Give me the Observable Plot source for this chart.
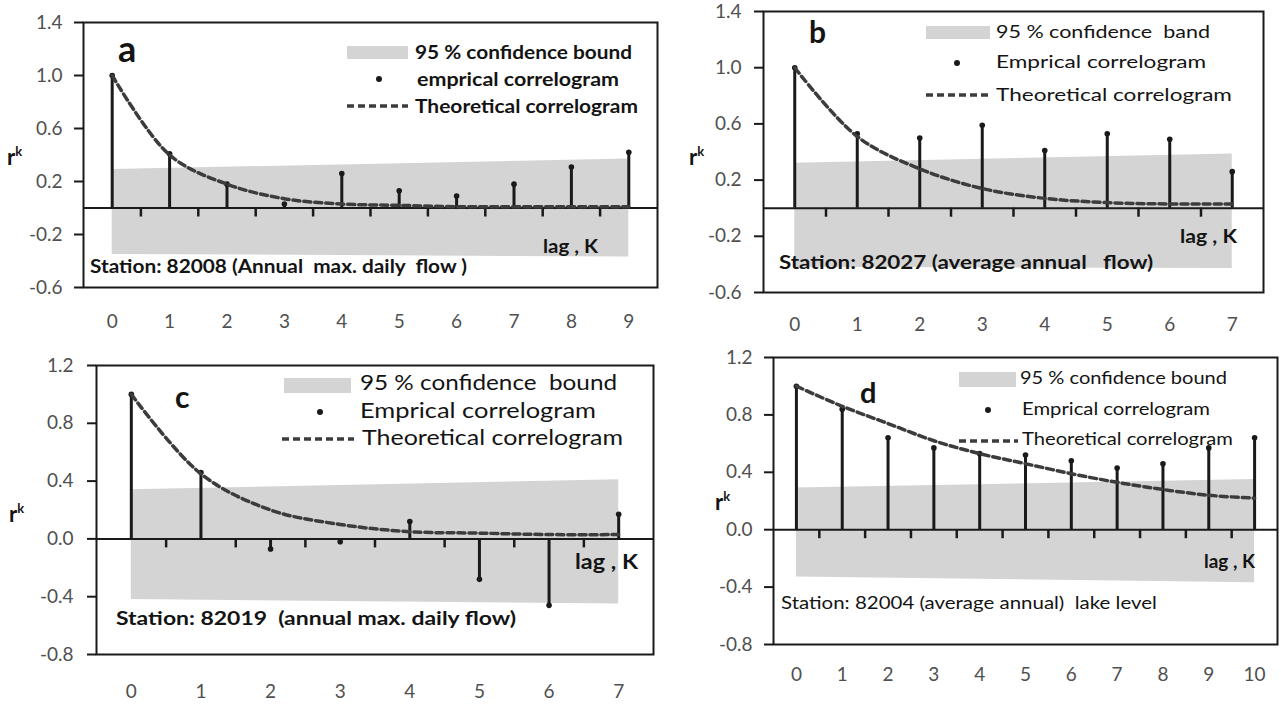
<!DOCTYPE html>
<html>
<head>
<meta charset="utf-8">
<script src="https://cdn.jsdelivr.net/npm/d3@7"></script>
<script src="https://cdn.jsdelivr.net/npm/@observablehq/plot@0.6"></script>
<style>
html, body { margin: 0; padding: 0; background: #fff; }
#root { position: relative; width: 1281px; height: 704px; overflow: hidden; background: #fff; font-family: Lato, "Open Sans", sans-serif; color: #141414; }
#root svg { position: absolute; left: 0; top: 0; }
.t { position: absolute; white-space: pre; line-height: 1; transform-origin: 0 50%; }
.sw { position: absolute; background: #d4d4d4; }
.dt { position: absolute; border-radius: 50%; background: #1a1a1a; }
</style>
</head>
<body>
<div id="root"></div>
<script>
// ---------------- data ----------------
const lagA = [0, 1, 2, 3, 4, 5, 6, 7, 8, 9];
const empiricalA = [1.0, 0.41, 0.18, 0.03, 0.26, 0.13, 0.09, 0.18, 0.31, 0.42];
const theoreticalA = [1.0, 0.40, 0.18, 0.07, 0.03, 0.02, 0.01, 0.01, 0.01, 0.01];
const bandLagA = [0, 9];
const bandHiA = [0.29, 0.37];
const bandLoA = [-0.35, -0.37];

const lagB = [0, 1, 2, 3, 4, 5, 6, 7];
const empiricalB = [1.0, 0.53, 0.50, 0.59, 0.41, 0.53, 0.49, 0.26];
const theoreticalB = [1.0, 0.51, 0.28, 0.14, 0.07, 0.04, 0.03, 0.03];
const bandLagB = [0, 7];
const bandHiB = [0.32, 0.385];
const bandLoB = [-0.42, -0.43];

const lagC = [0, 1, 2, 3, 4, 5, 6, 7];
const empiricalC = [1.0, 0.46, -0.07, -0.02, 0.12, -0.28, -0.46, 0.17];
const theoreticalC = [1.0, 0.45, 0.20, 0.10, 0.05, 0.04, 0.03, 0.03];
const bandLagC = [0, 7];
const bandHiC = [0.34, 0.41];
const bandLoC = [-0.42, -0.45];

const lagD = [0, 1, 2, 3, 4, 5, 6, 7, 8, 9, 10];
const empiricalD = [1.0, 0.84, 0.64, 0.57, 0.53, 0.52, 0.48, 0.43, 0.46, 0.57, 0.64];
const theoreticalD = [1.0, 0.86, 0.74, 0.62, 0.53, 0.46, 0.39, 0.33, 0.28, 0.24, 0.22];
const bandLagD = [0, 10];
const bandHiD = [0.29, 0.35];
const bandLoD = [-0.33, -0.37];

const yTicksAB = [-0.6, -0.2, 0.2, 0.6, 1.0, 1.4];
const yTicksCD = [-0.8, -0.4, 0.0, 0.4, 0.8, 1.2];

const panelLetters = ["a", "b", "c", "d"];
const legendConfidence = ["95 % confidence bound", "95 % confidence  band", "95 % confidence  bound", "95 % confidence bound"];
const legendEmpirical = ["emprical correlogram", "Emprical correlogram", "Emprical correlogram", "Emprical correlogram"];
const legendTheoretical = ["Theoretical correlogram", "Theoretical correlogram", "Theoretical correlogram", "Theoretical correlogram"];
const lagLabel = "lag , K";
const stationLabels = [
  "Station: 82008 (Annual  max. daily  flow )",
  "Station: 82027 (average annual   flow)",
  "Station: 82019  (annual max. daily flow)",
  "Station: 82004 (average annual)  lake level"
];

// ---------------- layout ----------------
const W = 1281, H = 704;
const panels = [
  { lags: lagA, emp: empiricalA, theo: theoreticalA, bl: bandLagA, hi: bandHiA, lo: bandLoA, yTicks: yTicksAB, yDomain: [-0.6, 1.4],
    box: [83, 657, 22, 287], xPad: 27, yPad: 12,
    letter: { x: 118, base: 62, size: 36 },
    sw: [347, 46, 61, 13], t1: [415, 52, 217, 19, 700], dot: [379, 79], t2: [417, 79, 202, 19, 700], dash: [347, 408, 106], t3: [415, 106, 223, 19, 700],
    lag: [543, 247, 55, 18], station: [90, 266, 377, 19, 700], rk: [7, 157] },
  { lags: lagB, emp: empiricalB, theo: theoreticalB, bl: bandLagB, hi: bandHiB, lo: bandLoB, yTicks: yTicksAB, yDomain: [-0.6, 1.4],
    box: [763, 1263, 11, 292], xPad: 25, yPad: 13,
    letter: { x: 809, base: 43, size: 30 },
    sw: [926, 26, 64, 13], t1: [996, 32, 214, 18, 400], dot: [957, 63], t2: [996, 62, 210, 18, 400], dash: [926, 990, 95], t3: [996, 95, 236, 18, 400],
    lag: [1180, 237, 57, 18], station: [779, 262, 374, 19, 700], rk: [689, 157] },
  { lags: lagC, emp: empiricalC, theo: theoreticalC, bl: bandLagC, hi: bandHiC, lo: bandLoC, yTicks: yTicksCD, yDomain: [-0.8, 1.2],
    box: [96, 653, 365, 654], xPad: 30, yPad: 14,
    letter: { x: 175, base: 408, size: 30 },
    sw: [284, 378, 67, 15], t1: [360, 383, 257, 21, 400], dot: [320, 412], t2: [360, 411, 236, 21, 400], dash: [282, 354, 439], t3: [362, 438, 261, 21, 400],
    lag: [575, 562, 63, 20], station: [116, 618, 400, 19, 700], rk: [9, 514] },
  { lags: lagD, emp: empiricalD, theo: theoreticalD, bl: bandLagD, hi: bandHiD, lo: bandLoD, yTicks: yTicksCD, yDomain: [-0.8, 1.2],
    box: [773, 1277, 357, 644], xPad: 23, yPad: 12,
    letter: { x: 860, base: 403, size: 29 },
    sw: [959, 372, 57, 15], t1: [1020, 378, 207, 18, 400], dot: [988, 410], t2: [1022, 409, 188, 18, 400], dash: [959, 1018, 441], t3: [1022, 439, 211, 18, 400],
    lag: [1204, 562, 51, 18], station: [781, 603, 376, 18, 400], rk: [715, 502] }
];

const root = document.getElementById("root");
const INK = "#1a1a1a";
const TICK_PX = 9; // length of the small category ticks under the zero line

panels.forEach((p, idx) => {
  const rows = p.lags.map((k, i) => ({ lag: k, emp: p.emp[i], theo: p.theo[i] }));
  const band = p.bl.map((k, i) => ({ lag: k, hi: p.hi[i], lo: p.lo[i] }));
  const mids = p.lags.slice(0, -1).map(k => k + 0.5);
  const [L, R, T, B] = p.box;
  const tickLen = TICK_PX * (p.yDomain[1] - p.yDomain[0]) / (B - T);
  const svg = Plot.plot({
    width: W, height: H,
    marginLeft: L, marginRight: W - R, marginTop: T, marginBottom: H - B,
    x: { type: "linear", domain: [-0.5, p.lags.length - 0.5] },
    y: { type: "linear", domain: p.yDomain },
    style: { background: "transparent", fontFamily: "Lato, 'Open Sans', sans-serif", fontSize: "19px", overflow: "visible" },
    marks: [
      Plot.areaY(band, { x: "lag", y1: "lo", y2: "hi", fill: "#d4d4d4" }),
      Plot.ruleY([0], { stroke: INK, strokeWidth: 2 }),
      Plot.ruleX(mids, { x: d => d, y1: 0, y2: -tickLen, stroke: INK, strokeWidth: 2.5 }),
      Plot.ruleX(rows, { x: "lag", y1: 0, y2: "emp", stroke: INK, strokeWidth: 3 }),
      Plot.dot(rows, { x: "lag", y: "emp", r: 2.8, fill: INK }),
      Plot.line(rows, { x: "lag", y: "theo", curve: "catmull-rom", stroke: "#3c3c3c", strokeWidth: 3.5, strokeDasharray: "7,4" }),
      Plot.axisY({ ticks: p.yTicks, tickSize: 9, tickPadding: p.yPad, tickFormat: d => d.toFixed(1), stroke: INK, fill: "#505050", strokeWidth: 2, label: null }),
      Plot.axisX({ ticks: p.lags, tickSize: 0, tickPadding: p.xPad, tickFormat: d => String(d), fill: "#505050", label: null }),
      Plot.frame({ stroke: INK, strokeWidth: 2 })
    ]
  });
  root.appendChild(svg);

  // overlay: legend and annotations
  const fits = [];
  function text(str, x, cy, size, weight, w) {
    const el = document.createElement("div");
    el.className = "t";
    el.textContent = str;
    el.style.left = x + "px";
    el.style.top = (cy - 0.55 * size) + "px";
    el.style.fontSize = size + "px";
    el.style.fontWeight = weight;
    root.appendChild(el);
    if (w) fits.push([el, w]);
    return el;
  }
  // panel letter
  const lt = document.createElement("div");
  lt.className = "t";
  lt.textContent = panelLetters[idx];
  lt.style.left = p.letter.x + "px";
  lt.style.top = (p.letter.base - 0.887 * p.letter.size) + "px";
  lt.style.fontSize = p.letter.size + "px";
  lt.style.fontWeight = 700;
  root.appendChild(lt);

  // swatch
  const sw = document.createElement("div");
  sw.className = "sw";
  sw.style.left = p.sw[0] + "px"; sw.style.top = p.sw[1] + "px";
  sw.style.width = p.sw[2] + "px"; sw.style.height = p.sw[3] + "px";
  root.appendChild(sw);
  text(legendConfidence[idx], p.t1[0], p.t1[1], p.t1[3], p.t1[4], p.t1[2]);

  // dot
  const dt = document.createElement("div");
  dt.className = "dt";
  dt.style.left = (p.dot[0] - 3) + "px"; dt.style.top = (p.dot[1] - 3) + "px";
  dt.style.width = "6px"; dt.style.height = "6px";
  root.appendChild(dt);
  text(legendEmpirical[idx], p.t2[0], p.t2[1], p.t2[3], p.t2[4], p.t2[2]);

  // dashed line sample
  const ns = "http://www.w3.org/2000/svg";
  const ds = document.createElementNS(ns, "svg");
  ds.setAttribute("width", W); ds.setAttribute("height", H);
  ds.style.pointerEvents = "none";
  const ln = document.createElementNS(ns, "line");
  ln.setAttribute("x1", p.dash[0]); ln.setAttribute("x2", p.dash[1]);
  ln.setAttribute("y1", p.dash[2]); ln.setAttribute("y2", p.dash[2]);
  ln.setAttribute("stroke", "#3c3c3c"); ln.setAttribute("stroke-width", 3.5);
  ln.setAttribute("stroke-dasharray", "7,4");
  ds.appendChild(ln);
  root.appendChild(ds);
  text(legendTheoretical[idx], p.t3[0], p.t3[1], p.t3[3], p.t3[4], p.t3[2]);

  // lag label and station
  text(lagLabel, p.lag[0], p.lag[1], p.lag[3], 700, p.lag[2]);
  text(stationLabels[idx], p.station[0], p.station[1], p.station[3], p.station[4], p.station[2]);

  // y label r^k
  const rk = document.createElement("div");
  rk.className = "t";
  rk.style.left = p.rk[0] + "px";
  rk.style.top = (p.rk[1] - 12) + "px";
  rk.style.fontSize = "22px";
  rk.style.fontWeight = 700;
  rk.innerHTML = 'r<span style="font-size:13px;vertical-align:9px;font-weight:700">k</span>';
  root.appendChild(rk);

  fits.forEach(([el, w]) => {
    const nat = el.getBoundingClientRect().width;
    if (nat > 0) el.style.transform = "scaleX(" + (w / nat).toFixed(3) + ")";
  });
});
</script>
</body>
</html>
